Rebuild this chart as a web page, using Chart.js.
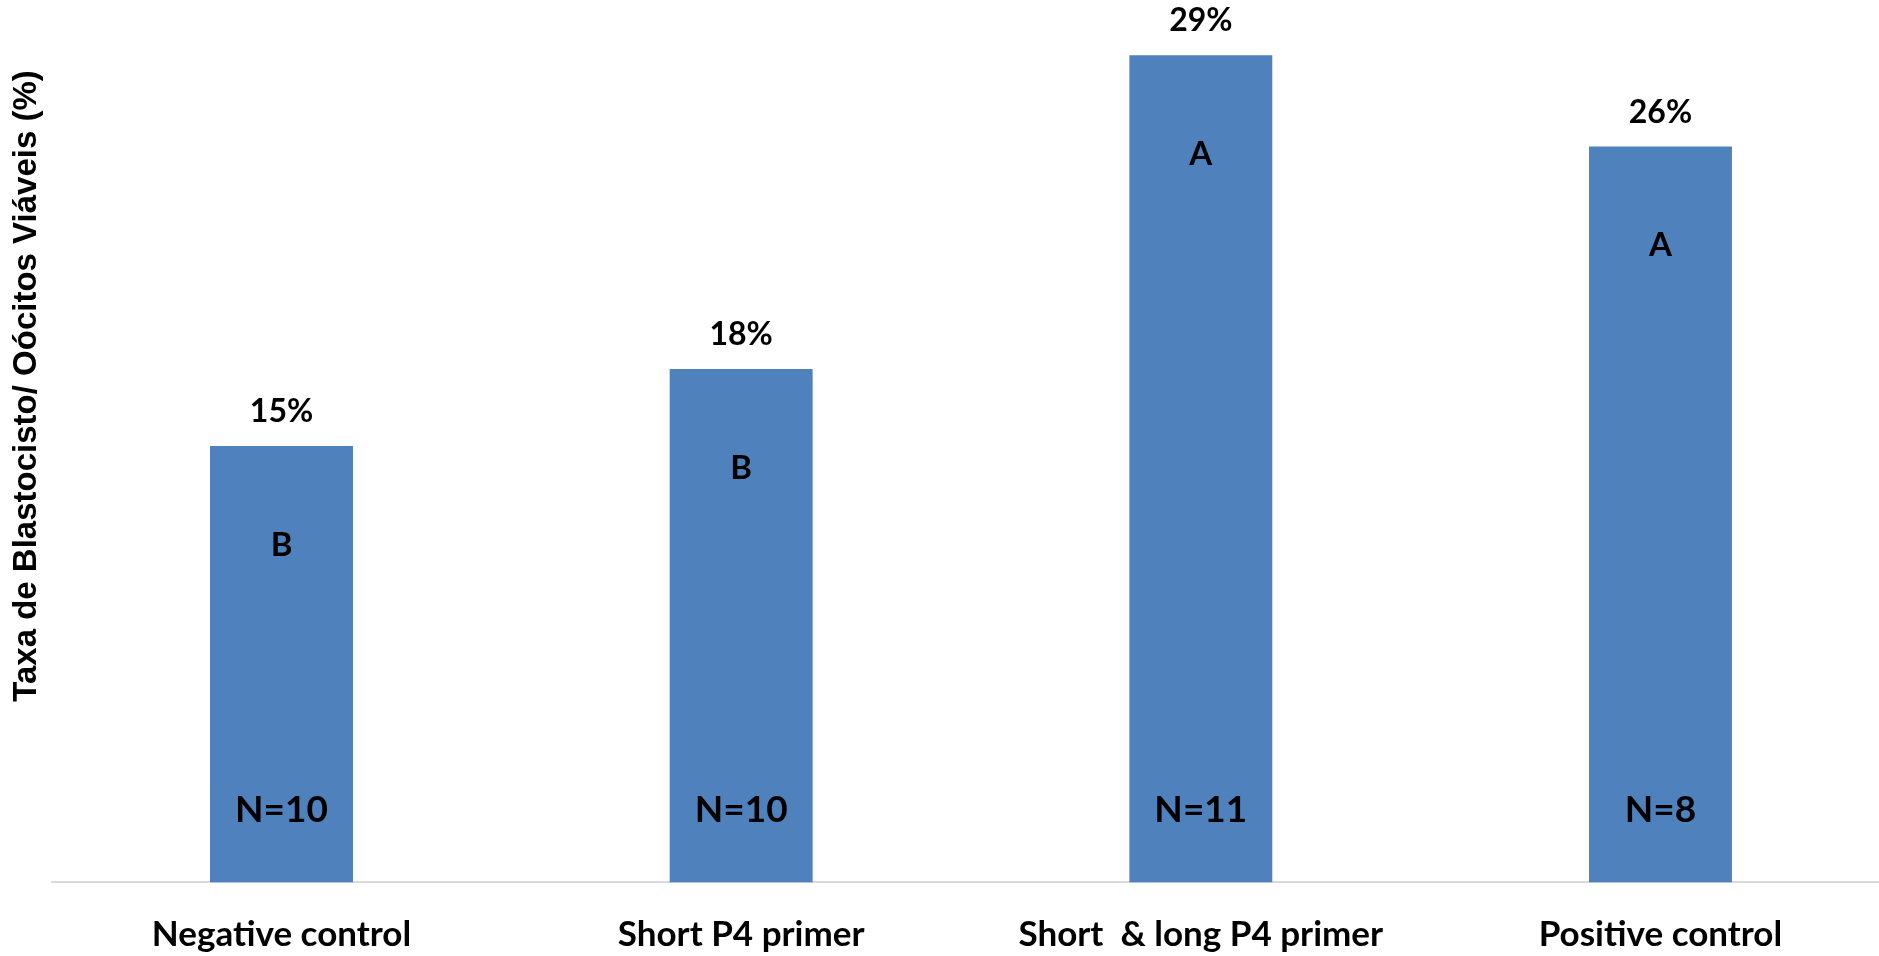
<!DOCTYPE html>
<html>
<head>
<meta charset="utf-8">
<script src="https://cdn.jsdelivr.net/npm/chart.js@4.4.0/dist/chart.umd.min.js"></script>
<style>
  html, body { margin: 0; padding: 0; background: #ffffff; overflow: hidden; }
  #wrap { position: absolute; left: 0; top: 0; width: 1891px; height: 956px; }
  canvas { display: block; }
</style>
</head>
<body>
<div id="wrap"><canvas id="c" width="1891" height="956"></canvas></div>
<script>
// ---- data ----
const categories = ["Negative control", "Short P4 primer", "Short  & long P4 primer", "Positive control"];
const rates = [15.3, 18.0, 29.0, 25.8];
const rateLabels = ["15%", "18%", "29%", "26%"];
const groupLetters = ["B", "B", "A", "A"];
const sampleSizes = ["N=10", "N=10", "N=11", "N=8"];
const yTitle = "Taxa de Blastocisto/ Oócitos Viáveis (%)";
const yMin = 0;
const yMax = 30;

// ---- style ----
const barColor = "#4F81BD";
const labelFont = "Lato, 'Noto Sans', sans-serif";

const annotate = {
  id: "annotate",
  afterDatasetsDraw(chart) {
    const ctx = chart.ctx;
    const meta = chart.getDatasetMeta(0);
    ctx.save();
    ctx.fillStyle = "#000000";
    ctx.textAlign = "center";
    ctx.textBaseline = "middle";
    meta.data.forEach((bar, i) => {
      ctx.font = "bold 32px " + labelFont;
      ctx.fillText(rateLabels[i], bar.x, bar.y - 34);
      ctx.font = "bold 33px " + labelFont;
      ctx.fillText(groupLetters[i], bar.x, bar.y + 99);
      ctx.font = "bold 37px " + labelFont;
      ctx.fillText(sampleSizes[i], bar.x, bar.base - 72);
    });
    // y axis title
    ctx.translate(26.5, 386);
    ctx.rotate(-Math.PI / 2);
    ctx.font = "bold 33px 'Liberation Sans', Arial, sans-serif";
    ctx.fillText(yTitle, 0, 0);
    ctx.restore();
  }
};

new Chart(document.getElementById("c"), {
  type: "bar",
  data: {
    labels: categories,
    datasets: [{
      data: rates,
      backgroundColor: barColor,
      borderWidth: 0,
      barPercentage: 0.311,
      categoryPercentage: 1.0
    }]
  },
  options: {
    responsive: false,
    animation: false,
    devicePixelRatio: 1,
    layout: { padding: { left: 51.67, right: 0.7, top: 26.6, bottom: -30.4 } },
    plugins: { legend: { display: false }, tooltip: { enabled: false }, title: { display: false } },
    scales: {
      x: {
        grid: { display: false, drawTicks: false },
        border: { display: true, color: "#D9D9D9", width: 2 },
        ticks: {
          color: "#000000",
          font: { family: labelFont, size: 35, weight: "bold" },
          padding: 31,
          maxRotation: 0,
          autoSkip: false
        }
      },
      y: {
        display: false,
        min: yMin,
        max: yMax
      }
    }
  },
  plugins: [annotate]
});
</script>
</body>
</html>
